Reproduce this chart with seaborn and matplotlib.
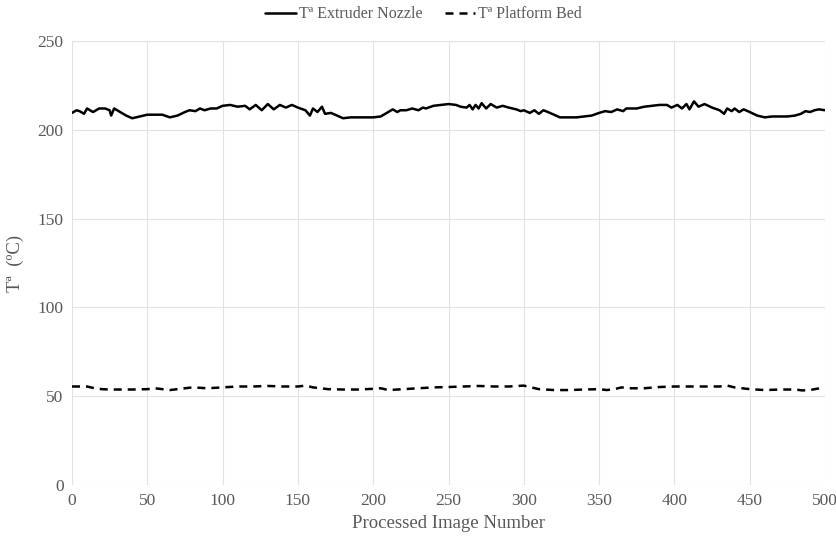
import matplotlib
matplotlib.use("Agg")
import matplotlib.pyplot as plt
import pandas as pd
import seaborn as sns

# values (image number, temperature in ºC)
nozzle_x = [0, 3, 5, 8, 10, 14, 18, 22, 25, 26,
            28, 32, 36, 40, 45, 50, 55, 60, 65, 70,
            75, 78, 82, 85, 88, 92, 96, 100, 105, 110,
            115, 118, 122, 126, 130, 134, 138, 142, 146, 150,
            155, 158, 160, 163, 166, 168, 172, 176, 180, 185,
            190, 195, 200, 205, 210, 213, 216, 218, 222, 226,
            230, 233, 235, 240, 245, 250, 255, 258, 262, 264,
            266, 268, 270, 272, 275, 278, 282, 286, 290, 295,
            298, 300, 304, 307, 310, 313, 316, 320, 324, 330,
            335, 340, 345, 350, 354, 358, 362, 366, 368, 370,
            375, 380, 385, 390, 395, 398, 402, 405, 408, 410,
            413, 416, 420, 425, 430, 433, 435, 438, 440, 443,
            446, 450, 455, 460, 465, 470, 475, 480, 484, 487,
            490, 493, 496, 500]
nozzle_t = [209.5, 211, 210.5, 209, 212, 210, 212, 212, 211, 208,
            212, 210, 208, 206.5, 207.5, 208.5, 208.5, 208.5, 207, 208,
            210, 211, 210.5, 212, 211, 212, 212, 213.5, 214, 213,
            213.5, 211.5, 214, 211, 214.5, 211.5, 214, 212.5, 214, 212.5,
            211, 208, 212, 210, 213, 209, 209.5, 208, 206.5, 207,
            207, 207, 207, 207.5, 210, 211.5, 210, 211, 211, 212,
            211, 212.5, 212, 213.5, 214, 214.5, 214, 213, 212.5, 214,
            211.5, 214, 212, 215, 212, 214.5, 212.5, 213.5, 212.5, 211.5,
            210.5, 211, 209.5, 211, 209, 211, 210, 208.5, 207, 207,
            207, 207.5, 208, 209.5, 210.5, 210, 211.5, 210.5, 212, 212,
            212, 213, 213.5, 214, 214, 212.5, 214, 212, 214.5, 211.5,
            216, 213, 214.5, 212.5, 211, 209, 212, 210.5, 212, 210,
            211.5, 210, 208, 207, 207.5, 207.5, 207.5, 208, 209, 210.5,
            210, 211, 211.5, 211]

bed_x = [0, 5, 10, 15, 20, 25, 30, 40, 50, 55, 60, 65, 70, 75, 80, 90, 100, 110, 120,
         130, 140, 150, 155, 160, 170, 180, 190, 200, 205, 210, 220, 230, 240, 250, 260,
         270, 280, 290, 300, 305, 310, 320, 330, 340, 350, 355, 360, 365, 370, 380, 390,
         400, 410, 420, 430, 435, 440, 450, 460, 470, 480, 485, 490, 495, 500]
bed_t = [55.5, 55.5, 55.5, 54.5, 54, 53.8, 53.8, 53.8, 54, 54.5, 54, 53.5, 54, 54.5,
         55, 54.5, 55, 55.5, 55.5, 55.8, 55.5, 55.5, 56, 55, 54, 53.8, 53.8, 54.2, 54.5,
         53.5, 54, 54.5, 55, 55.2, 55.5, 55.8, 55.5, 55.5, 56, 55, 54, 53.5, 53.5, 53.8,
         54, 53.5, 54, 55, 54.5, 54.5, 55.2, 55.5, 55.5, 55.5, 55.5, 56, 55, 54, 53.5,
         53.8, 53.8, 53.3, 53.5, 54.3, 54.5]

x_ticks = [0, 50, 100, 150, 200, 250, 300, 350, 400, 450, 500]
y_ticks = [0, 50, 100, 150, 200, 250]

sns.set_theme(style="white")
plt.rcParams["font.family"] = ["Liberation Serif", "DejaVu Serif"]
grey = "#595959"

fig = plt.figure(figsize=(8.37, 5.42), dpi=100)
ax = fig.add_axes([0.086, 0.105, 0.8997, 0.8194])

nozzle = pd.DataFrame({"image": nozzle_x, "temp": nozzle_t})
bed = pd.DataFrame({"image": bed_x, "temp": bed_t})
sns.lineplot(data=nozzle, x="image", y="temp", ax=ax, color="black", lw=1.8,
             label="Tª Extruder Nozzle")
sns.lineplot(data=bed, x="image", y="temp", ax=ax, color="black", lw=1.8,
             label="Tª Platform Bed")
ax.lines[1].set_dashes((3.2, 2.4))

ax.set_xlim(0, 500)
ax.set_ylim(0, 250)
ax.set_xticks(x_ticks)
ax.set_yticks(y_ticks)
ax.grid(True, color="#e2e2e2", lw=0.8)
for s in ax.spines.values():
    s.set_visible(False)
ax.tick_params(axis="both", labelsize=12.5, colors=grey, length=0, pad=6)
ax.set_xlabel("Processed Image Number", fontsize=13.5, color=grey, labelpad=4)
ax.set_ylabel("Tª  (ºC)", fontsize=13.5, color=grey, labelpad=10)

ax.get_legend().remove()
handles, labels = ax.get_legend_handles_labels()
fig.legend(handles, labels, loc="upper center", bbox_to_anchor=(0.506, 1.015), ncol=2,
           frameon=False, fontsize=11.5, handlelength=1.9, columnspacing=1.4,
           handletextpad=0.2, labelcolor=grey)

fig.savefig("out.png", dpi=100)
